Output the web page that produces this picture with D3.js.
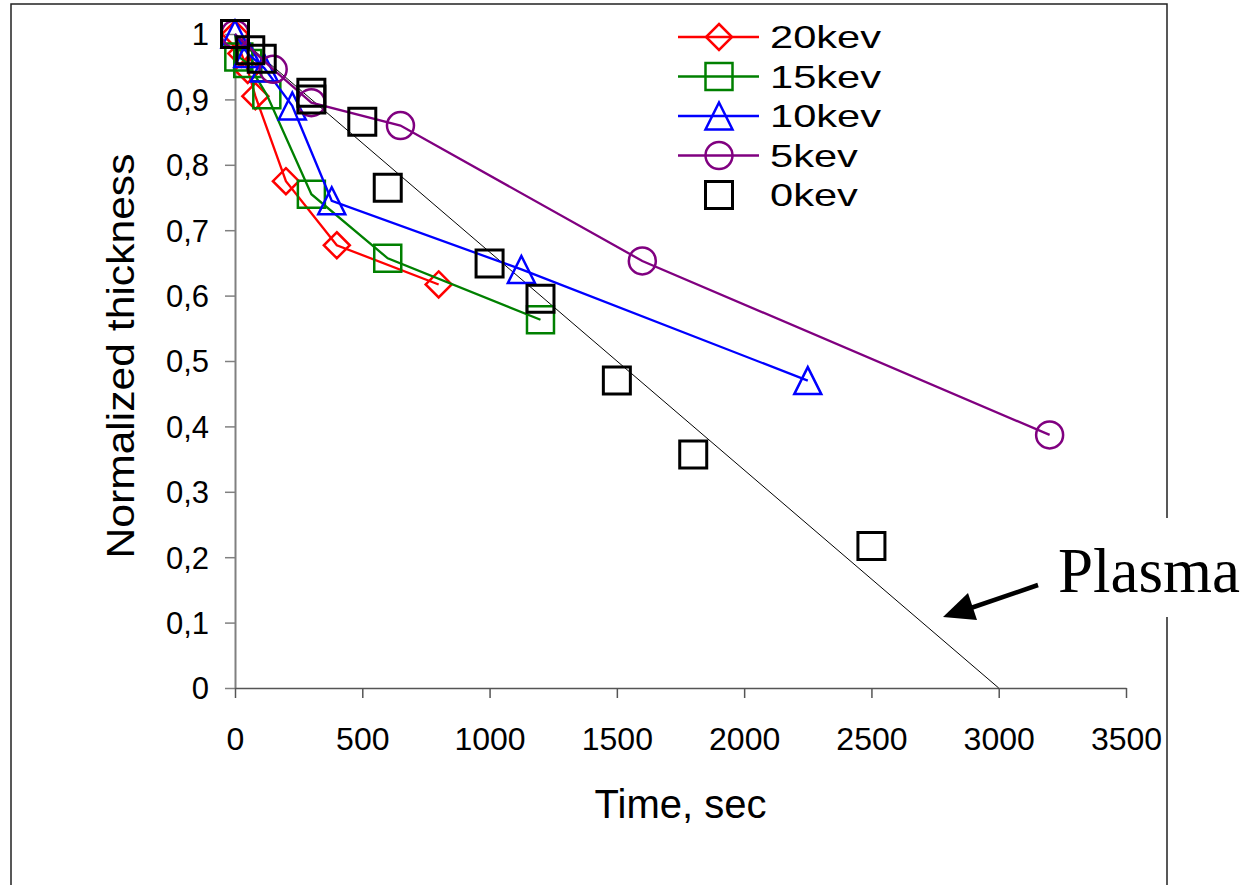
<!DOCTYPE html>
<html>
<head>
<meta charset="utf-8">
<script src="https://cdn.jsdelivr.net/npm/d3@7"></script>
<style>
  html, body { margin: 0; padding: 0; background: #fff; }
  svg { display: block; }
</style>
</head>
<body>
<svg id="chart" width="1251" height="885"></svg>
<script>
// ---------- data ----------
const seriesNames  = ["20kev", "15kev", "10kev", "5kev", "0kev"];
const seriesColors = ["#ff0000", "#008000", "#0000ff", "#800080", "#000000"];
const seriesShapes = ["diamond", "square", "triangle", "circle", "square"];
const seriesHasLine = [true, true, true, true, false];

const time20 = [0, 25, 50, 80, 200, 400, 800];
const thick20 = [1, 0.97, 0.945, 0.905, 0.775, 0.677, 0.617];

const time15 = [0, 15, 50, 125, 300, 600, 1200];
const thick15 = [1, 0.965, 0.955, 0.907, 0.755, 0.657, 0.563];

const time10 = [0, 50, 115, 225, 380, 1125, 2250];
const thick10 = [1, 0.97, 0.948, 0.89, 0.745, 0.64, 0.47];

const time5 = [0, 150, 300, 650, 1600, 3200];
const thick5 = [1, 0.946, 0.895, 0.86, 0.653, 0.387];

const time0 = [0, 60, 105, 300, 300, 500, 600, 1000, 1200, 1500, 1800, 2500];
const thick0 = [1, 0.975, 0.962, 0.91, 0.9, 0.866, 0.765, 0.649, 0.595, 0.47, 0.357, 0.217];

const plasmaTime = [0, 3000];
const plasmaThick = [1, 0];

const xTicks = [0, 500, 1000, 1500, 2000, 2500, 3000, 3500];
const yTicks = [0, 0.1, 0.2, 0.3, 0.4, 0.5, 0.6, 0.7, 0.8, 0.9, 1];

const xTitle = "Time, sec";
const yTitle = "Normalized thickness";
const annotationText = "Plasma";

const seriesTimes = [time20, time15, time10, time5, time0];
const seriesThick = [thick20, thick15, thick10, thick5, thick0];

// ---------- layout ----------
const svg = d3.select("#chart");
const x = d3.scaleLinear().domain([0, 3500]).range([235, 1126]);
const y = d3.scaleLinear().domain([0, 1]).range([688, 34]);

// frame
svg.append("path")
  .attr("d", "M11,885 L11,4 L1167,4 L1167,885")
  .attr("fill", "none").attr("stroke", "#222").attr("stroke-width", 1.5);

// marker path generator
function markerPath(shape) {
  if (shape === "diamond") { const s = 13; return `M0,${-s}L${s},0L0,${s}L${-s},0Z`; }
  if (shape === "square") { const s = 13.5; return `M${-s},${-s}H${s}V${s}H${-s}Z`; }
  if (shape === "triangle") { const s = 13.5; return `M0,${-s}L${s},${s}L${-s},${s}Z`; }
  const r = 13.5;
  return `M${r},0A${r},${r} 0 1,1 ${-r},0A${r},${r} 0 1,1 ${r},0Z`;
}

// axes
const font = "'Liberation Sans', Arial, sans-serif";
const yAxis = d3.axisLeft(y).tickValues(yTicks).tickSize(10).tickSizeOuter(0)
  .tickFormat(d => d === 0 ? "0" : d === 1 ? "1" : d3.format(".1f")(d).replace(".", ","));
const gy = svg.append("g").attr("transform", `translate(${x(0)},0)`).call(yAxis);
gy.select(".domain").attr("stroke", "#808080").attr("stroke-width", 2);
gy.selectAll(".tick line").attr("stroke", "#808080").attr("stroke-width", 1.5);
gy.selectAll(".tick text").attr("font-family", font).attr("font-size", 31).attr("fill", "#000")
  .attr("x", -26).attr("dy", "0.35em");

const xAxis = d3.axisBottom(x).tickValues(xTicks).tickSize(10).tickSizeOuter(0)
  .tickFormat(d3.format("d"));
const gx = svg.append("g").attr("transform", `translate(0,${y(0)})`).call(xAxis);
gx.select(".domain").attr("stroke", "#555").attr("stroke-width", 1.5);
gx.selectAll(".tick line").attr("stroke", "#555").attr("stroke-width", 1.5);
gx.selectAll(".tick text").attr("font-family", font).attr("font-size", 32).attr("fill", "#000")
  .attr("y", 62).attr("dy", 0);

// axis titles
svg.append("text").text(xTitle)
  .attr("x", (x(0) + x(3500)) / 2).attr("y", 818)
  .attr("text-anchor", "middle").attr("font-family", font).attr("font-size", 40).attr("fill", "#000");

svg.append("text").text(yTitle)
  .attr("transform", "translate(134,356) rotate(-90)")
  .attr("text-anchor", "middle").attr("font-family", font).attr("font-size", 38)
  .attr("textLength", 405).attr("lengthAdjust", "spacingAndGlyphs").attr("fill", "#000");

// plasma reference line
svg.append("path")
  .datum(plasmaTime.map((t, i) => [t, plasmaThick[i]]))
  .attr("d", d3.line().x(d => x(d[0])).y(d => y(d[1])))
  .attr("fill", "none").attr("stroke", "#000").attr("stroke-width", 1);

// series
const line = d3.line().x(d => x(d[0])).y(d => y(d[1]));
seriesNames.forEach((name, i) => {
  const pts = seriesTimes[i].map((t, j) => [t, seriesThick[i][j]]);
  const g = svg.append("g").attr("class", "series");
  if (seriesHasLine[i]) {
    g.append("path").datum(pts).attr("d", line)
      .attr("fill", "none").attr("stroke", seriesColors[i]).attr("stroke-width", 2.3);
  }
  g.selectAll("path.mk").data(pts).enter().append("path").attr("class", "mk")
    .attr("d", markerPath(seriesShapes[i]))
    .attr("transform", d => `translate(${x(d[0])},${y(d[1])})`)
    .attr("fill", "none").attr("stroke", seriesColors[i])
    .attr("stroke-width", i === 4 ? 3 : 2.5);
});

// legend
const legendY0 = 37, legendDy = 39.5;
seriesNames.forEach((name, i) => {
  const g = svg.append("g").attr("transform", `translate(0,${legendY0 + i * legendDy})`);
  if (seriesHasLine[i]) {
    g.append("line").attr("x1", 678).attr("x2", 759).attr("y1", 0).attr("y2", 0)
      .attr("stroke", seriesColors[i]).attr("stroke-width", 2.3);
  }
  g.append("path").attr("d", markerPath(seriesShapes[i]))
    .attr("transform", "translate(719,0)")
    .attr("fill", "none").attr("stroke", seriesColors[i]).attr("stroke-width", i === 4 ? 3 : 2.5);
  g.append("text").text(name)
    .attr("transform", "translate(770,11) scale(1.3,1)")
    .attr("font-family", font).attr("font-size", 32).attr("fill", "#000");
});

// annotation
svg.append("rect").attr("x", 1050).attr("y", 518).attr("width", 201).attr("height", 99).attr("fill", "#fff");
svg.append("text").text(annotationText)
  .attr("x", 1058).attr("y", 592)
  .attr("font-family", "'Liberation Serif', 'Times New Roman', serif").attr("font-size", 63)
  .attr("fill", "#000");

// arrow
svg.append("line").attr("x1", 1038).attr("y1", 585).attr("x2", 965).attr("y2", 610)
  .attr("stroke", "#000").attr("stroke-width", 4.5);
svg.append("path").attr("d", "M943,617 L968,593 L977,620 Z").attr("fill", "#000");
</script>
</body>
</html>
